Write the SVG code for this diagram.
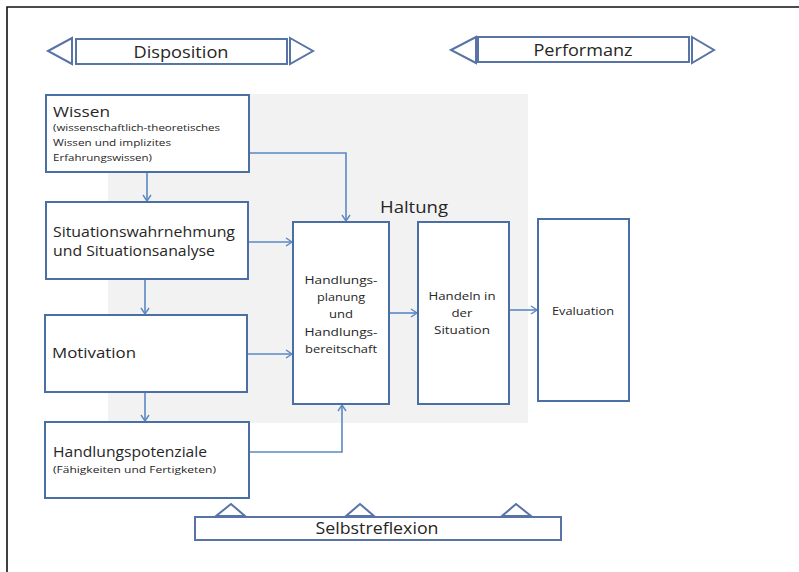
<svg xmlns="http://www.w3.org/2000/svg" width="799" height="572" viewBox="0 0 799 572">
<defs>
<marker id="arr" markerWidth="10" markerHeight="10" refX="8" refY="5" orient="auto" markerUnits="userSpaceOnUse">
<path d="M2,1 L8,5 L2,9" fill="none" stroke="#5a88c4" stroke-width="1.4"/>
</marker>
<style>
.box{fill:#fff;stroke:#4a6fa5;stroke-width:2}
.ban{fill:#fff;stroke:#5873a6;stroke-width:2}
.con{fill:none;stroke:#5a88c4;stroke-width:1.6}
text{font-family:"Open Sans","Liberation Sans",sans-serif;fill:#262626}
.big{font-size:14px}
.small{font-size:9px}
.mid{font-size:11px}
.ban-t{font-size:17px}
</style>
</defs>
<rect x="0" y="0" width="799" height="572" fill="#fff"/>
<path d="M7,572 L7,7 L799,7" fill="none" stroke="#111" stroke-width="1.6"/>
<rect x="108" y="94" width="420" height="329" fill="#f2f2f2"/>

<g id="disposition">
<polygon class="ban" points="48,51 72,38 72,64"/>
<rect class="ban" x="76" y="39" width="211" height="25"/>
<polygon class="ban" points="290,38 313,51 290,64"/>
<text class="ban-t" x="181" y="58" text-anchor="middle" textLength="95" lengthAdjust="spacingAndGlyphs">Disposition</text>
</g>
<g id="performanz">
<polygon class="ban" points="451,50 476,37 476,63"/>
<rect class="ban" x="478" y="37" width="211" height="25"/>
<polygon class="ban" points="692,37 714,50 692,63"/>
<text class="ban-t" x="583" y="56" text-anchor="middle" textLength="99" lengthAdjust="spacingAndGlyphs">Performanz</text>
</g>

<g id="haltung">
<text x="380" y="213" style="font-size:16px" textLength="68" lengthAdjust="spacingAndGlyphs">Haltung</text>
</g>

<g id="connectors">
<path class="con" d="M147,172 L147,201" marker-end="url(#arr)"/>
<path class="con" d="M249,153 L346,153 L346,221" marker-end="url(#arr)"/>
<path class="con" d="M145,279 L145,314" marker-end="url(#arr)"/>
<path class="con" d="M248,242 L292,242" marker-end="url(#arr)"/>
<path class="con" d="M145,392 L145,421" marker-end="url(#arr)"/>
<path class="con" d="M247,354 L292,354" marker-end="url(#arr)"/>
<path class="con" d="M249,452 L342,452 L342,405" marker-end="url(#arr)"/>
<path class="con" d="M389,313 L417,313" marker-end="url(#arr)"/>
<path class="con" d="M509,310 L537,310" marker-end="url(#arr)"/>
</g>

<g id="wissen">
<rect class="box" x="46" y="95" width="203" height="77"/>
<text class="big" x="53" y="117" textLength="57" lengthAdjust="spacingAndGlyphs">Wissen</text>
<text class="small" x="53" y="131" textLength="167" lengthAdjust="spacingAndGlyphs">(wissenschaftlich-theoretisches</text>
<text class="small" x="53" y="146" textLength="118" lengthAdjust="spacingAndGlyphs">Wissen und  implizites</text>
<text class="small" x="53" y="161" textLength="99" lengthAdjust="spacingAndGlyphs">Erfahrungswissen)</text>
</g>

<g id="situation">
<rect class="box" x="46" y="202" width="202" height="77"/>
<text class="big" x="53" y="237" textLength="182" lengthAdjust="spacingAndGlyphs">Situationswahrnehmung</text>
<text class="big" x="53" y="256" textLength="162" lengthAdjust="spacingAndGlyphs">und Situationsanalyse</text>
</g>

<g id="motivation">
<rect class="box" x="45" y="315" width="202" height="77"/>
<text class="big" x="52" y="358" textLength="84" lengthAdjust="spacingAndGlyphs">Motivation</text>
</g>

<g id="potenziale">
<rect class="box" x="45" y="422" width="204" height="76"/>
<text class="big" x="53" y="457" textLength="154" lengthAdjust="spacingAndGlyphs">Handlungspotenziale</text>
<text class="small" x="53" y="473" textLength="163" lengthAdjust="spacingAndGlyphs">(Fähigkeiten und Fertigketen)</text>
</g>

<g id="planung">
<rect class="box" x="293" y="222" width="96" height="182"/>
<text class="mid" x="341" y="284" text-anchor="middle" textLength="73" lengthAdjust="spacingAndGlyphs">Handlungs-</text>
<text class="mid" x="341" y="301" text-anchor="middle" textLength="48" lengthAdjust="spacingAndGlyphs">planung</text>
<text class="mid" x="341" y="318" text-anchor="middle" textLength="24" lengthAdjust="spacingAndGlyphs">und</text>
<text class="mid" x="341" y="336" text-anchor="middle" textLength="73" lengthAdjust="spacingAndGlyphs">Handlungs-</text>
<text class="mid" x="341" y="353" text-anchor="middle" textLength="72" lengthAdjust="spacingAndGlyphs">bereitschaft</text>
</g>

<g id="handeln">
<rect class="box" x="418" y="222" width="91" height="182"/>
<text class="mid" x="462" y="300" text-anchor="middle" textLength="67" lengthAdjust="spacingAndGlyphs">Handeln in</text>
<text class="mid" x="462" y="317" text-anchor="middle" textLength="21" lengthAdjust="spacingAndGlyphs">der</text>
<text class="mid" x="462" y="334" text-anchor="middle" textLength="56" lengthAdjust="spacingAndGlyphs">Situation</text>
</g>

<g id="evaluation">
<rect class="box" x="538" y="219" width="91" height="182"/>
<text class="mid" x="583" y="315" text-anchor="middle" textLength="62" lengthAdjust="spacingAndGlyphs">Evaluation</text>
</g>

<g id="selbstreflexion">
<polygon class="ban" points="216,516 231,504 245,516" stroke-width="1.4"/>
<polygon class="ban" points="346,516 360,504 374,516" stroke-width="1.4"/>
<polygon class="ban" points="502,516 516,504 531,516" stroke-width="1.4"/>
<rect class="ban" x="195" y="517" width="366" height="23"/>
<text class="ban-t" x="377" y="534" text-anchor="middle" textLength="123" lengthAdjust="spacingAndGlyphs">Selbstreflexion</text>
</g>
</svg>
